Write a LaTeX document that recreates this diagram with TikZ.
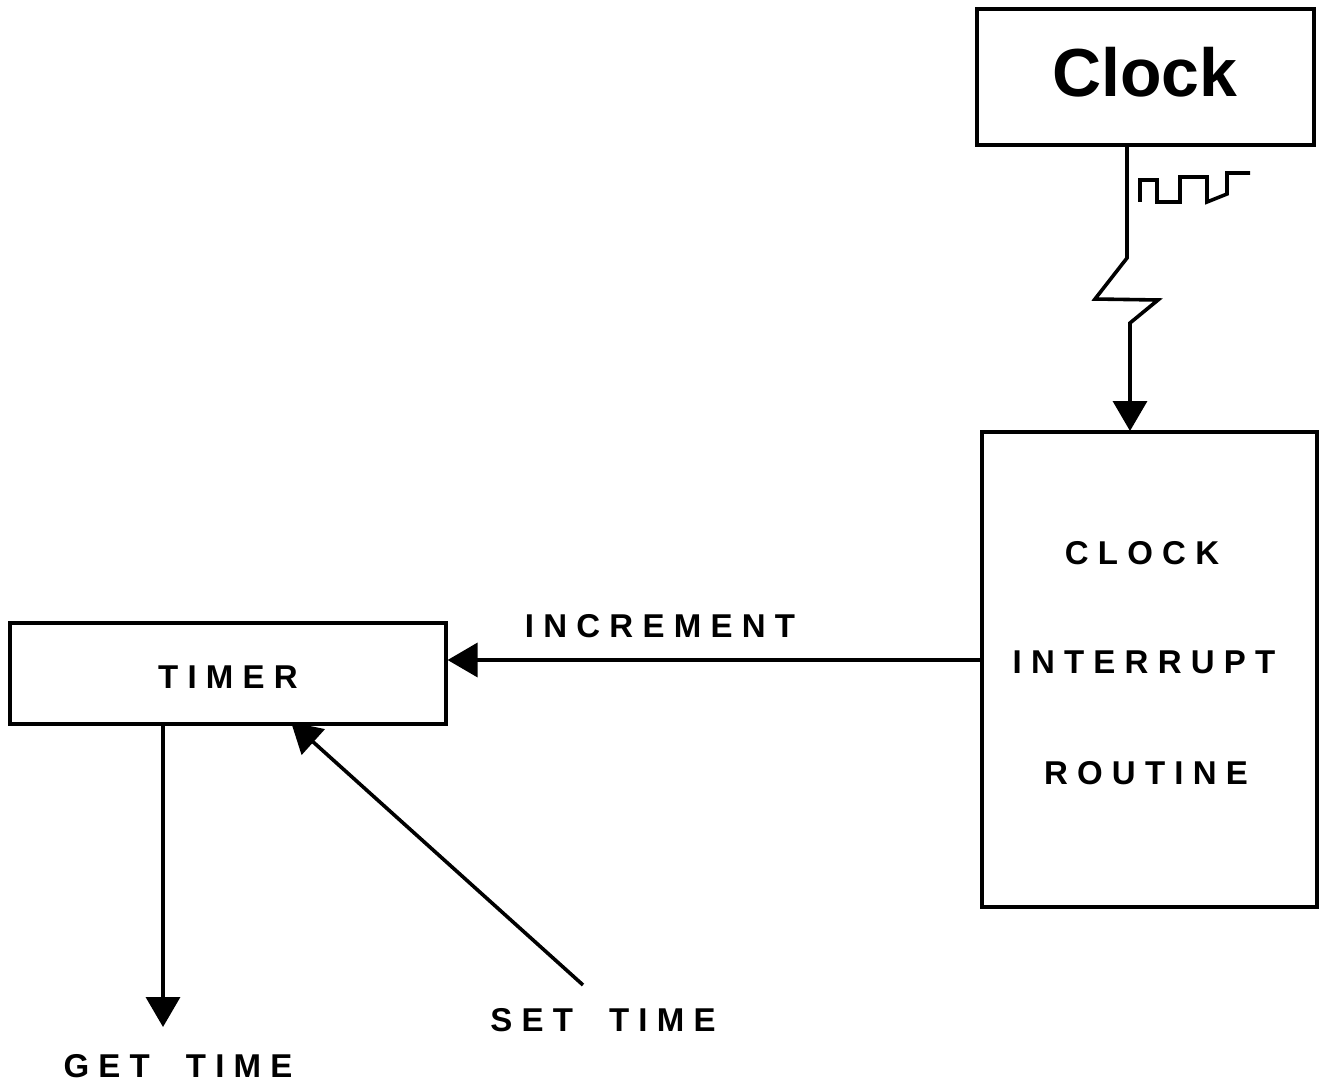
\documentclass[tikz,border=0pt]{standalone}
\usepackage{fontspec}
\setmainfont{Liberation Sans}
\newfontfamily\labfont[LetterSpace=28]{Liberation Sans Bold}
\newfontfamily\bigfont{Liberation Sans Bold}
\usetikzlibrary{arrows.meta}
\begin{document}
\begin{tikzpicture}[x=1pt,y=-1pt,
  box/.style={draw,line width=3.2pt,inner sep=0pt},
  lab/.style={font=\labfont\fontsize{33}{36}\selectfont,inner sep=0pt},
  conn/.style={line width=3.6pt,-{Triangle[length=30pt,width=34pt]}},
  wire/.style={line width=3.6pt}]
\useasboundingbox (0,0) rectangle (1325,1086);
\node[box,minimum width=337pt,minimum height=136pt] (clock) at (1145.5,77) {};
\node[font=\bigfont\fontsize{68}{70}\selectfont] (clocktxt) at (1145,72) {Clock};
\node[box,minimum width=335pt,minimum height=475pt] (cir) at (1149.5,669.5) {};
\node[lab] (t1) at (1142,553) {CLOCK};
\node[lab] (t2) at (1144,662) {INTERRUPT};
\node[lab] (t3) at (1146,773) {ROUTINE};
\node[box,minimum width=436pt,minimum height=101pt] (timer) at (228,673.5) {};
\node[lab] (tt) at (228,677) {TIMER};
\node[lab] (inc) at (660,626) {INCREMENT};
\node[lab] (get) at (178,1066) {GET\rule{36pt}{0pt}TIME};
\node[lab] (set) at (603,1020) {SET\rule{36pt}{0pt}TIME};
% clock signal with break
\coordinate (z0) at (1127,145);
\coordinate (z1) at (1127,258);
\coordinate (z2) at (1095,299);
\coordinate (z3) at (1158,300);
\coordinate (z4) at (1130,323);
\coordinate (z5) at (1130,431);
\draw[wire,line join=miter] (z0) -- (z1) -- (z2) -- (z3) -- (z4) -- (1130,380);
\draw[conn] (1130,379) -- (z5);
% square wave
\draw[wire,line join=miter] (1140,202) -- (1140,180) -- (1157,180) -- (1157,202) -- (1180,202) -- (1180,177) -- (1207,177) -- (1207,202) -- (1227,194) -- (1227,173) -- (1250,173);
% increment
\draw[conn] (cir.west |- 0,660) -- (timer.east |- 0,660);
% get time
\coordinate (g1) at (163,1027);
\draw[conn] (timer.south -| 163,0) -- (g1);
% set time
\coordinate (s0) at (583,985);
\coordinate (s1) at (291,722);
\draw[conn] (s0) -- (s1);
\end{tikzpicture}
\end{document}
